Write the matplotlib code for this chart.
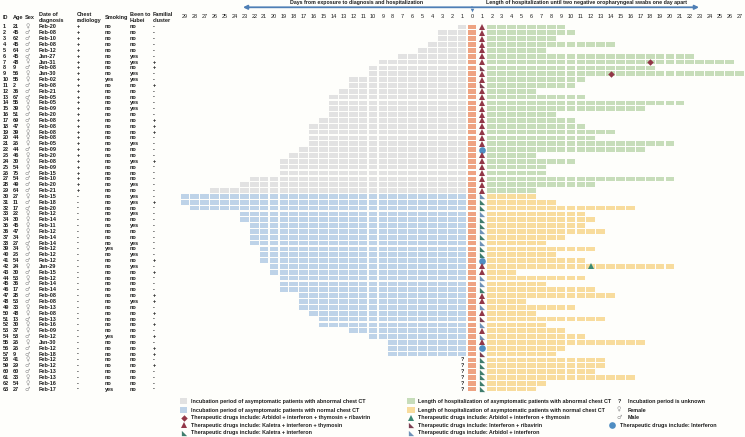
import matplotlib
matplotlib.use("Agg")
import matplotlib.pyplot as plt
from matplotlib.path import Path
import numpy as np

plt.rcParams['font.family'] = ['Liberation Sans', 'DejaVu Sans']

# ---- table data ----
ages = [21, 45, 62, 45, 64, 45, 48, 9, 56, 55, 2, 36, 67, 55, 39, 51, 69, 47, 39, 44,
        26, 44, 46, 30, 54, 75, 54, 49, 64, 27, 11, 17, 22, 30, 45, 47, 34, 27, 34, 23,
        54, 24, 30, 53, 36, 17, 28, 53, 33, 48, 13, 30, 37, 58, 26, 26, 9, 41, 29, 60,
        33, 54, 27]
sex = list("FMMMMMFMFFMMMFFMMFFFFMFFFMMMMFMMFFFFFMFMMFMFMMMMFFMFFMFMMFMMFFM")
dates = ["Feb-20", "Feb-08", "Feb-10", "Feb-08", "Feb-12", "Jan-27", "Jan-31", "Feb-08",
         "Jan-30", "Feb-02", "Feb-08", "Feb-21", "Feb-05", "Feb-05", "Feb-09", "Feb-20",
         "Feb-08", "Feb-08", "Feb-08", "Feb-08", "Feb-05", "Feb-09", "Feb-20", "Feb-08",
         "Feb-09", "Feb-15", "Feb-10", "Feb-20", "Feb-21", "Feb-15", "Feb-18", "Feb-20",
         "Feb-12", "Feb-14", "Feb-11", "Feb-12", "Feb-14", "Feb-14", "Feb-12", "Feb-12",
         "Feb-12", "Jan-29", "Feb-15", "Feb-12", "Feb-14", "Feb-14", "Feb-08", "Feb-08",
         "Feb-13", "Feb-08", "Feb-13", "Feb-16", "Feb-09", "Feb-12", "Jan-30", "Feb-12",
         "Feb-18", "Feb-12", "Feb-12", "Feb-13", "Feb-13", "Feb-16", "Feb-17"]
chest = ["+"] * 29 + ["-"] * 34
smoking_yes = [10, 39, 54, 63]
hubei_yes = [6, 7, 9, 10, 14, 15, 21, 24, 28, 30, 31, 33, 35, 38, 40, 42, 48]
familial_yes = [7, 8, 11, 17, 18, 19, 24, 31, 41, 43, 47, 48, 50, 52, 54, 56, 57, 59]

# ---- grid data ----
# incubation days (None = unknown)
incubation = [1, 3, 3, 4, 5, 7, 9, 10, 10, 12, 12, 13, 14, 14, 14, 14, 15, 16, 16, 16,
              16, 17, 18, 19, 19, 19, 22, 23, 26,
              29, 29, 28, 23, 23, 22, 22, 22, 22, 21, 21, 21, 20, 20, 19, 19, 19, 17, 17,
              17, 16, 15, 15, 12, 10, 8, 8, 8] + [None] * 6
# last day of hospitalization
hosp_end = [9, 10, 8, 14, 7, 22, 26, 18, 27, 11, 10, 6, 11, 21, 17, 8, 10, 11, 14, 12,
            20, 17, 6, 10, 7, 7, 20, 12, 6,
            6, 8, 16, 11, 12, 11, 13, 9, 7, 12, 8, 11, 20, 4, 11, 7, 12, 14, 5, 10, 6,
            13, 7, 9, 11, 17, 9, 8, 13, 13, 12, 16, 7, 6]
# drug on day 1: K3 Kaletra+IFN+thymosin, KI Kaletra+IFN, IR IFN+ribavirin,
# AI Arbidol+IFN, I interferon
drugs = ["K3"] * 7 + ["IR", "K3", "K3", "IR"] + ["K3"] * 10 + ["I"] + ["K3"] * 7 + \
        ["AI", "KI", "KI", "AI", "KI", "KI", "AI", "KI", "AI", "KI", "KI", "I", "K3", "K3",
         "AI", "AI", "KI", "K3", "K3", "AI", "K3", "IR", "AI", "K3", "AI", "K3", "I", "IR"] + \
        ["KI"] * 6
extra_diamond = [(7, 18), (9, 14)]
extra_green_tri = [(42, 12)]

n = len(ages)
rows = np.arange(1, n + 1)

gray, blue, orange = "#e2e2e2", "#bed3e8", "#eea382"
green, yellow = "#c7ddba", "#f8dc9d"
c_red, c_green, c_teal, c_maroon, c_steel, c_circle = \
    "#923748", "#3c8a74", "#3f7d6d", "#7d3f52", "#6f92b8", "#4f8dc2"
arrow_c = "#4f7fb5"
txt_c = "#1e1e1e"

rtri = Path([(-1, -1), (1, -1), (-1, 1), (-1, -1)])
drug_style = {
    "K3": dict(marker="^", color=c_red, ms=4.2),
    "KI": dict(marker=rtri, color=c_teal, ms=3.8),
    "IR": dict(marker=rtri, color=c_maroon, ms=3.8),
    "AI": dict(marker=rtri, color=c_steel, ms=3.8),
    "I": dict(marker="o", color=c_circle, ms=4.8),
}

fig = plt.figure(figsize=(7.45, 4.37), dpi=100)
fig.patch.set_facecolor("#fefefb")
ax = fig.add_axes([0, 0, 1, 1])
ax.set_facecolor("#fefefb")
ax.set_xlim(-47.68, 27.58)
ax.set_ylim(71.2, -3.62)
ax.axis("off")

def fx(px):
    # figure pixel -> x data
    return (px - 472) / 9.9

def fy(py):
    return 1 + (py - 27) / 5.84

cw, ch = 0.88, 0.8
for r, inc, he in zip(rows, incubation, hosp_end):
    normal = r >= 30
    if inc is not None:
        xs = -np.arange(1, inc + 1)
        ax.barh([r] * inc, cw, left=xs - cw / 2, height=ch,
                color=blue if normal else gray, linewidth=0)
    else:
        ax.text(-1, r, "?", ha="center", va="center", fontsize=3.9,
                fontweight="bold", color=txt_c)
    ax.barh([r], cw, left=-cw / 2, height=ch, color=orange, linewidth=0)
    xs = np.arange(2, he + 1)
    ax.barh([r] * len(xs), cw, left=xs - cw / 2, height=ch,
            color=yellow if normal else green, linewidth=0)

for r, d in zip(rows, drugs):
    st = drug_style[d]
    ax.plot(1, r, linestyle="none", marker=st["marker"], color=st["color"],
            ms=st["ms"], mew=0)
for r, p in extra_diamond:
    ax.plot(p, r, linestyle="none", marker="D", color=c_red, ms=3.3, mew=0)
for r, p in extra_green_tri:
    ax.plot(p, r, linestyle="none", marker="^", color=c_green, ms=4.2, mew=0)

# day numbers
hdr_y = fy(16.7)
for d in range(29, 0, -1):
    ax.text(-d, hdr_y, str(d), ha="center", va="center", fontsize=4.0, color=txt_c)
for d in range(0, 28):
    ax.text(d, hdr_y, str(d), ha="center", va="center", fontsize=4.0, color=txt_c)

# arrows
ay = fy(7.3)
ax.annotate("", xy=(fx(243), ay), xytext=(0, ay),
            arrowprops=dict(arrowstyle="-|>", color=arrow_c, lw=1.3, mutation_scale=6,
                            shrinkA=0, shrinkB=0))
ax.annotate("", xy=(fx(699), ay), xytext=(0, ay),
            arrowprops=dict(arrowstyle="-|>", color=arrow_c, lw=1.3, mutation_scale=6,
                            shrinkA=0, shrinkB=0))
ax.plot(0, fy(10.2), marker="v", color=arrow_c, ms=2.6, mew=0)
ax.text(fx(357), fy(2.8), "Days from exposure to diagnosis and hospitalization",
        ha="center", va="center", fontsize=3.8, fontweight="bold", color=txt_c)
ax.text(fx(587), fy(2.8),
        "Length of hospitalization until two negative oropharyngeal swabs one day apart",
        ha="center", va="center", fontsize=3.8, fontweight="bold", color=txt_c)

# table
col_px = dict(id=2.5, age=12.5, sex=25, date=39, chest=76.5, smk=104.5, hub=130, fam=152.5)
headers = [("id", "ID"), ("age", "Age"), ("sex", "Sex"), ("date", "Date of\ndiagnosis"),
           ("chest", "Chest\nradiology"), ("smk", "Smoking"), ("hub", "Been to\nHubei"),
           ("fam", "Familial\ncluster")]
th = dict(fontsize=4.0, fontweight="bold", color=txt_c, va="center", ha="left",
          linespacing=1.35)
for key, lab in headers:
    ax.text(fx(col_px[key]), fy(17.3), lab, **th)
td = dict(fontsize=4.0, fontweight="bold", color=txt_c, va="center", ha="left")
for r, a, s, dt, c in zip(rows, ages, sex, dates, chest):
    ax.text(fx(col_px["id"]), r, str(r), **td)
    ax.text(fx(col_px["age"]), r, str(a), **td)
    ax.text(fx(col_px["sex"]), r, "\u2640" if s == "F" else "\u2642", fontsize=4.3,
            color="#9a9a9a", va="center", ha="left", family="DejaVu Sans")
    ax.text(fx(col_px["date"]), r, dt, **td)
    ax.text(fx(col_px["chest"]), r, c, **td)
    ax.text(fx(col_px["smk"]), r, "yes" if r in smoking_yes else "no", **td)
    ax.text(fx(col_px["hub"]), r, "yes" if r in hubei_yes else "no", **td)
    ax.text(fx(col_px["fam"]), r, "+" if r in familial_yes else "-", **td)

# legend
leg_rows = [fy(401), fy(410), fy(417.6), fy(425.2), fy(432.7)]
lg = dict(fontsize=3.9, fontweight="bold", color=txt_c, va="center", ha="left")
pw, ph = 0.75, 1.1

def leg_patch(px, y, color, label):
    ax.add_patch(plt.Rectangle((fx(px) - pw / 2, y - ph / 2), pw, ph, color=color, lw=0))
    ax.text(fx(px + 7), y, label, **lg)

def leg_marker(px, y, marker, color, ms, label, tx=7):
    ax.plot(fx(px), y, linestyle="none", marker=marker, color=color, ms=ms, mew=0)
    ax.text(fx(px + tx), y, label, **lg)

leg_patch(183.5, leg_rows[0], gray, "Incubation period of asymptomatic patients with abnormal chest CT")
leg_patch(183.5, leg_rows[1], blue, "Incubation period of asymptomatic patients with normal chest CT")
leg_marker(183.5, leg_rows[2], "D", c_red, 3.3, "Therapeutic drugs include: Arbidol + interferon + thymosin + ribavirin")
leg_marker(183.5, leg_rows[3], "^", c_red, 4.2, "Therapeutic drugs include: Kaletra + interferon + thymosin")
leg_marker(183.5, leg_rows[4], rtri, c_teal, 3.8, "Therapeutic drugs include: Kaletra + interferon")
leg_patch(411, leg_rows[0], green, "Length of hospitalization of asymptomatic patients with abnormal chest CT")
leg_patch(411, leg_rows[1], yellow, "Length of hospitalization of asymptomatic patients with normal chest CT")
leg_marker(411, leg_rows[2], "^", c_green, 4.2, "Therapeutic drugs include: Arbidol + interferon + thymosin")
leg_marker(411, leg_rows[3], rtri, c_maroon, 3.8, "Therapeutic drugs include: Interferon + ribavirin")
leg_marker(411, leg_rows[4], rtri, c_steel, 3.8, "Therapeutic drugs include: Arbidol + interferon")
ax.text(fx(619), leg_rows[0], "?", ha="center", va="center", fontsize=3.9,
        fontweight="bold", color=txt_c)
ax.text(fx(628), leg_rows[0], "Incubation period is unknown", **lg)
ax.text(fx(619), leg_rows[1], "\u2640", ha="center", va="center", fontsize=4.3,
        color="#9a9a9a", family="DejaVu Sans")
ax.text(fx(628), leg_rows[1], "Female", **lg)
ax.text(fx(619), leg_rows[2], "\u2642", ha="center", va="center", fontsize=4.3,
        color="#9a9a9a", family="DejaVu Sans")
ax.text(fx(628), leg_rows[2], "Male", **lg)
leg_marker(612, leg_rows[3], "o", c_circle, 4.8, "Therapeutic drugs include: Interferon", tx=8)

fig.savefig("out.png", dpi=100, facecolor=fig.get_facecolor())
